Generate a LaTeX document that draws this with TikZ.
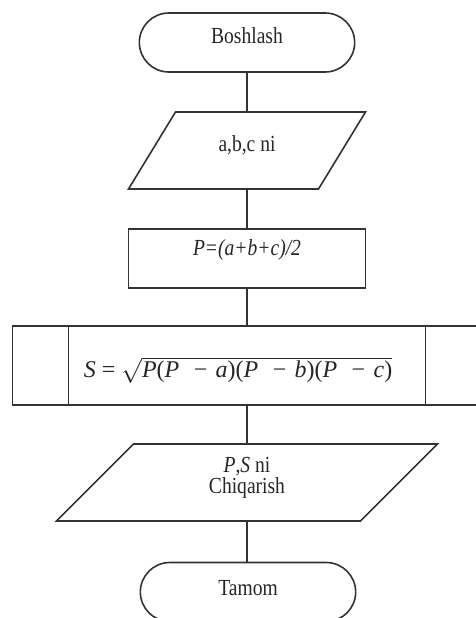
\documentclass[tikz,border=0pt]{standalone}
\usepackage{fontspec}
\setmainfont{Liberation Serif}
\newfontfamily\condfont[FakeStretch=0.85]{Liberation Serif}
\usetikzlibrary{shapes.misc,calc}
\definecolor{ink}{gray}{0.2}
\definecolor{txt}{gray}{0.15}
\begin{document}
\begin{tikzpicture}[x=1pt,y=-1pt,line width=1.6pt,
  base/.style={draw=ink,text=txt,outer sep=0pt,font=\condfont\fontsize{23}{21}\selectfont,align=center,text height=16pt},
  term/.style={base,rounded rectangle,minimum width=222pt,minimum height=59pt},
  io/.style={base,draw=none,minimum width=190pt,minimum height=77pt},
  procbox/.style={base,rectangle,minimum width=237pt,minimum height=59pt},
  predef/.style={base,rectangle,minimum width=469pt,minimum height=79pt},
  link/.style={draw=ink}]
\useasboundingbox (0,0) rectangle (476,618);
\clip (0,0) rectangle (476,618);
\fill[white] (0,0) rectangle (476,618);

\node[term,text depth=13pt] (start) at (247,42.5) {Boshlash};

\node[io,text depth=15pt] (in) at (247,150.5) {a,b,c ni};
\draw[draw=ink] ($(in.south west)+(-23.5,0)$) -- ($(in.south east)+(-23.5,0)$)
  -- ($(in.north east)+(23.5,0)$) -- ($(in.north west)+(23.5,0)$) -- cycle;

\node[procbox,text depth=23pt] (p) at (247,258.5) {\itshape P=(a+b+c)/2};

\node[predef] (s) at (247,365.5) {};
\draw[draw=ink] ($(s.north west)+(56,0)$) -- ($(s.south west)+(56,0)$);
\draw[draw=ink] ($(s.north east)+(-56,0)$) -- ($(s.south east)+(-56,0)$);
\node[text=txt,font=\fontsize{24}{28}\selectfont,anchor=base west,inner sep=0pt] (sf) at (83,377)
  {\textit{S} = $\sqrt{\mbox{\textit{P}(\textit{P}\hspace{0.6em}−\hspace{0.35em}\textit{a})(\textit{P}\hspace{0.6em}−\hspace{0.35em}\textit{b})(\textit{P}\hspace{0.6em}−\hspace{0.35em}\textit{c})}}$};

\node[io,minimum width=304pt,text height=37pt,text depth=16pt] (out) at (247,482.5) {\textit{P},\textit{S} ni\\Chiqarish};
\draw[draw=ink] ($(out.south west)+(-38.5,0)$) -- ($(out.south east)+(-38.5,0)$)
  -- ($(out.north east)+(38.5,0)$) -- ($(out.north west)+(38.5,0)$) -- cycle;

\node[term,text depth=10pt] (end) at (248,592) {Tamom};

\draw[link] (start.south) -- (in.north);
\draw[link] (in.south) -- (p.north);
\draw[link] (p.south) -- (s.north);
\draw[link] (s.south) -- (out.north);
\draw[link] (out.south) -- (out.south |- end.north);
\end{tikzpicture}
\end{document}
